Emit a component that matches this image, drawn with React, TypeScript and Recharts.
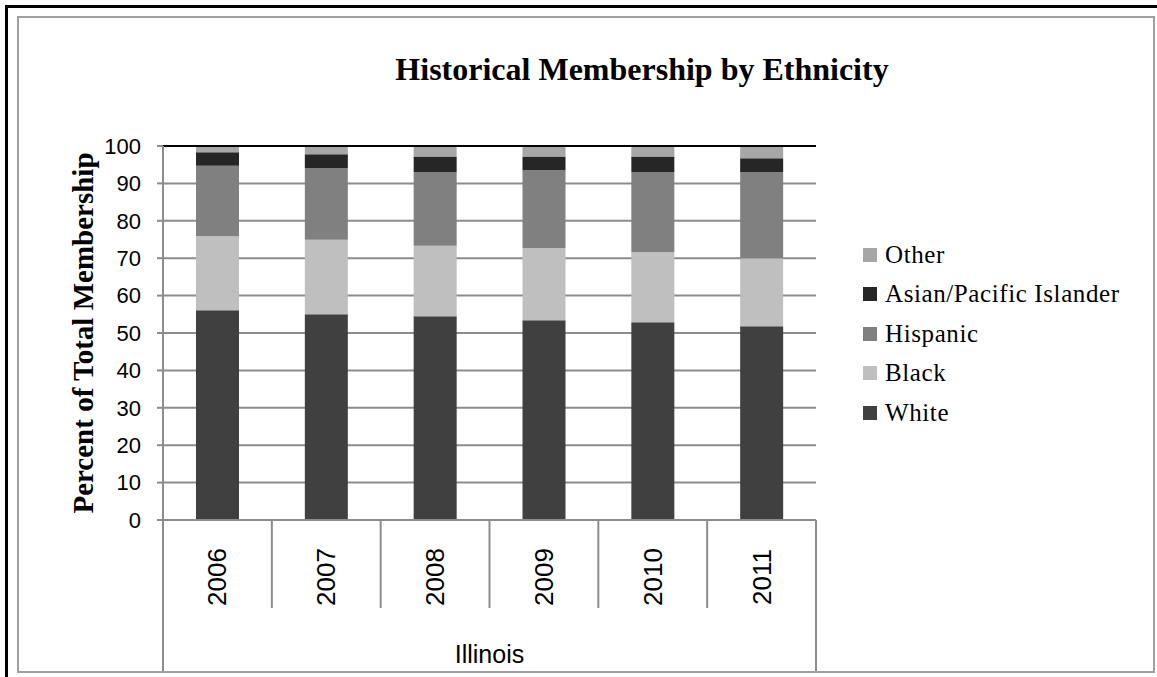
import { BarChart, Bar, XAxis, YAxis, CartesianGrid, Legend, ReferenceLine, Label } from "recharts";

// Illinois membership share by ethnicity, percent of total
const years = ["2006", "2007", "2008", "2009", "2010", "2011"];
const white = [56.1, 55.0, 54.5, 53.4, 52.9, 51.8];
const black = [19.8, 19.9, 18.8, 19.3, 18.7, 18.2];
const hispanic = [18.8, 19.2, 19.7, 20.9, 21.4, 23.0];
const asian = [3.6, 3.7, 4.2, 3.6, 4.2, 3.7];
const other = [1.7, 2.2, 2.8, 2.8, 2.8, 3.3];
const yTicks = [0, 10, 20, 30, 40, 50, 60, 70, 80, 90, 100];
const stateName = "Illinois";

const series = [
  { key: "white", name: "White", color: "#404040", values: white },
  { key: "black", name: "Black", color: "#bfbfbf", values: black },
  { key: "hispanic", name: "Hispanic", color: "#808080", values: hispanic },
  { key: "asian", name: "Asian/Pacific Islander", color: "#262626", values: asian },
  { key: "other", name: "Other", color: "#a6a6a6", values: other },
];

const data = years.map((year, i) => {
  const row: Record<string, string | number> = { year };
  series.forEach((s) => (row[s.key] = s.values[i]));
  return row;
});

const W = 1157;
const H = 677;
const MARGIN = { top: 146, right: 341, bottom: 6, left: 17 };
const Y_AXIS_W = 146;
const X_AXIS_H = 151;
const PLOT_W = W - MARGIN.left - MARGIN.right - Y_AXIS_W;
const GRID = "#8c8c8c";
const SANS = "'Liberation Sans', Arial, sans-serif";
const SERIF = "'Liberation Serif', 'Times New Roman', serif";

function YearTick(props: any) {
  const { x, y, payload, index } = props;
  const band = PLOT_W / years.length;
  const left = x - band / 2;
  const right = x + band / 2;
  const last = index === years.length - 1;
  return (
    <g>
      <line x1={left} x2={left} y1={y} y2={index === 0 ? y + X_AXIS_H : y + 88} stroke={GRID} strokeWidth={2} />
      {last && <line x1={right} x2={right} y1={y} y2={y + X_AXIS_H} stroke={GRID} strokeWidth={2} />}
      <text
        x={x}
        y={y + 57}
        transform={`rotate(-90 ${x} ${y + 57})`}
        textAnchor="middle"
        dominantBaseline="central"
        fontFamily={SANS}
        fontSize={26}
        fill="#000"
      >
        {payload.value}
      </text>
      {index === 0 && (
        <text x={left + PLOT_W / 2} y={y + 143} textAnchor="middle" fontFamily={SANS} fontSize={25} fill="#000">
          {stateName}
        </text>
      )}
    </g>
  );
}

function LegendBox() {
  return (
    <div style={{ fontFamily: SERIF, fontSize: 25, color: "#000", letterSpacing: 0.6 }}>
      {[...series].reverse().map((s) => (
        <div key={s.key} style={{ display: "flex", alignItems: "center", height: 39.5, whiteSpace: "nowrap" }}>
          <span style={{ width: 14, height: 14, background: s.color, marginRight: 8, display: "inline-block" }} />
          <span>{s.name}</span>
        </div>
      ))}
    </div>
  );
}

export default function App() {
  return (
    <div style={{ position: "absolute", left: 0, top: 0, width: W, height: H, background: "#fff", overflow: "hidden" }}>
      {/* outer frame, only top and left visible */}
      <div style={{ position: "absolute", left: 5, top: 5, width: W, height: H, borderTop: "3px solid #000", borderLeft: "3px solid #000" }} />
      <div style={{ position: "absolute", left: 17, top: 16, width: 1134, height: 653, border: "2px solid #a0a0a0" }} />
      <div
        style={{
          position: "absolute",
          left: 342,
          top: 53,
          width: 600,
          textAlign: "center",
          fontFamily: SERIF,
          fontWeight: "bold",
          fontSize: 32,
          lineHeight: "32px",
          color: "#000",
        }}
      >
        Historical Membership by Ethnicity
      </div>
      <div style={{ position: "absolute", left: 0, top: 0 }}>
        <BarChart width={W} height={H} data={data} margin={MARGIN}>
          <CartesianGrid vertical={false} stroke={GRID} strokeWidth={2} />
          <XAxis
            dataKey="year"
            height={X_AXIS_H}
            interval={0}
            tickSize={0}
            tickMargin={0}
            tickLine={false}
            axisLine={{ stroke: GRID, strokeWidth: 2 }}
            tick={<YearTick />}
          />
          <YAxis
            width={Y_AXIS_W}
            domain={[0, 100]}
            ticks={yTicks}
            interval={0}
            tickSize={6}
            tickMargin={16}
            axisLine={{ stroke: GRID, strokeWidth: 2 }}
            tickLine={{ stroke: GRID, strokeWidth: 2 }}
            tick={{ fill: "#000", fontSize: 22, fontFamily: SANS }}
          >
            <Label
              content={(p: any) => {
                const vb = p.viewBox;
                const cx = vb.x + 66;
                const cy = vb.y + vb.height / 2;
                return (
                  <text
                    x={cx}
                    y={cy}
                    transform={`rotate(-90 ${cx} ${cy})`}
                    textAnchor="middle"
                    dominantBaseline="central"
                    fontFamily={SERIF}
                    fontWeight="bold"
                    fontSize={29}
                    fill="#000"
                  >
                    Percent of Total Membership
                  </text>
                );
              }}
            />
          </YAxis>
          <YAxis
            yAxisId="frame"
            orientation="right"
            width={0}
            domain={[0, 100]}
            tick={false}
            tickLine={false}
            axisLine={{ stroke: "#000", strokeWidth: 2 }}
          />
          <ReferenceLine y={100} stroke="#000" strokeWidth={2} />
          {series.map((s) => (
            <Bar key={s.key} dataKey={s.key} name={s.name} stackId="a" fill={s.color} barSize={43} isAnimationActive={false} />
          ))}
          <Legend
            layout="horizontal"
            verticalAlign="middle"
            align="center"
            content={<LegendBox />}
            wrapperStyle={{ left: 863, top: 235, width: "auto" }}
          />
        </BarChart>
      </div>
    </div>
  );
}
